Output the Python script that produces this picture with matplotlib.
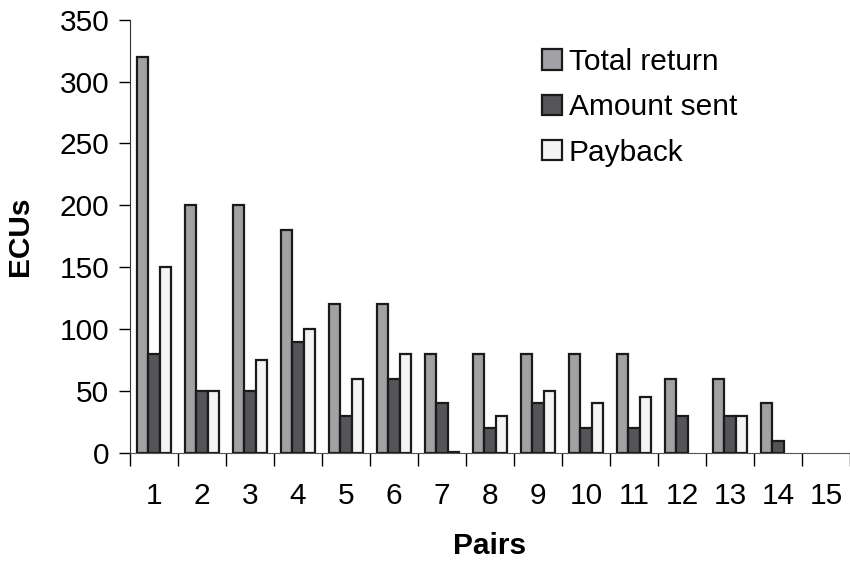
import matplotlib
matplotlib.use("Agg")
import matplotlib.pyplot as plt
import numpy as np
from matplotlib.patches import Patch

plt.rcParams['font.family'] = ['Liberation Sans', 'DejaVu Sans']

pairs = [str(i) for i in range(1, 16)]
total_return = [320, 200, 200, 180, 120, 120, 80, 80, 80, 80, 80, 60, 60, 40, 0]
amount_sent = [80, 50, 50, 90, 30, 60, 40, 20, 40, 20, 20, 30, 30, 10, 0]
payback = [150, 50, 75, 100, 60, 80, 1, 30, 50, 40, 45, 0, 30, 0, 0]

series = [("Total return", total_return, "#a2a2a6"),
          ("Amount sent", amount_sent, "#555557"),
          ("Payback", payback, "#f4f4f4")]

FS = 21.5
fig = plt.figure(figsize=(8.5, 5.64), dpi=100)
ax = fig.add_axes([0.153, 0.197, 0.847, 0.768])

x = np.arange(len(pairs))
w = 0.7 / 3
for i, (name, vals, col) in enumerate(series):
    edges = ["#1a1a1a" if v > 0 else "none" for v in vals]
    ax.bar(x + (i - 1) * w, vals, width=w, color=col, edgecolor=edges, linewidth=1.6)

ax.set_xlim(-0.5, len(pairs) - 0.5)
ax.set_ylim(0, 350)
ax.set_yticks(np.arange(0, 351, 50))
ax.tick_params(axis='y', labelsize=FS, length=8, width=1, direction='out', pad=7)

ax.set_xticks(x)
ax.set_xticklabels(pairs, fontsize=FS)
ax.tick_params(axis='x', length=0, pad=21)
ax.set_xticks(np.arange(-0.5, len(pairs), 1), minor=True)
ax.tick_params(axis='x', which='minor', length=9, width=1, direction='out')

for s in ['top', 'right']:
    ax.spines[s].set_visible(False)
ax.spines['left'].set_color('#333333')
ax.spines['bottom'].set_color('#555555')

ax.set_xlabel("Pairs", fontsize=FS, fontweight='bold', labelpad=16)
ax.set_ylabel("ECUs", fontsize=FS, fontweight='bold', labelpad=18)

handles = [Patch(facecolor=c, edgecolor="#1a1a1a", linewidth=1.6, label=n) for n, _, c in series]
ax.legend(handles=handles, loc='upper left', bbox_to_anchor=(0.535, 0.997), frameon=False,
          fontsize=FS, handlelength=0.68, handleheight=0.68, handletextpad=0.22, labelspacing=0.58)

fig.savefig("out.png", dpi=100)
